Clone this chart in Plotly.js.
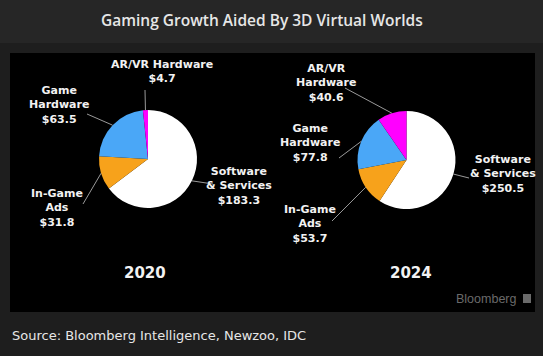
<!DOCTYPE html>
<html>
<head>
<meta charset="utf-8">
<script src="https://cdn.plot.ly/plotly-3.0.1.min.js"></script>
<style>html,body{margin:0;padding:0;background:#1e1e1e;}#chart{width:543px;height:356px;}</style>
</head>
<body>
<div id="chart"></div>
<script>
// ---- data ----
const categories = ['Software & Services', 'In-Game Ads', 'Game Hardware', 'AR/VR Hardware'];
const labelNames2020 = ['Software<br>& Services', 'In-Game<br>Ads', 'Game<br>Hardware', 'AR/VR Hardware'];
const labelNames2024 = ['Software<br>& Services', 'In-Game<br>Ads', 'Game<br>Hardware', 'AR/VR<br>Hardware'];
const values2020 = [183.3, 31.8, 63.5, 4.7];
const values2024 = [250.5, 53.7, 77.8, 40.6];
const years = ['2020', '2024'];
const sliceColors = ['#ffffff', '#f7a21b', '#4aa7f7', '#ff00ff'];

// ---- layout (pixels) ----
const W = 543, H = 356;
const pies = [
  {cx: 148, cy: 159, r: 49},
  {cx: 406.5, cy: 160, r: 49}
];
// label text center (tx,ty) and leader-line end (lx,ly), per slice
const labelPos = [
  [ {tx: 239, ty: 186, lx: 213, ly: 184},
    {tx: 57,  ty: 208, lx: 83,  ly: 204},
    {tx: 59,  ty: 105, lx: 87,  ly: 114},
    {tx: 162, ty: 71,  lx: 145, ly: 90} ],
  [ {tx: 503, ty: 174, lx: 469, ly: 178},
    {tx: 310, ty: 224, lx: 332, ly: 221},
    {tx: 310, ty: 143, lx: 339, ly: 158},
    {tx: 326, ty: 83,  lx: 345, ly: 88} ]
];
const yearPos = [{x: 145, y: 273}, {x: 411, y: 273}];

const px = x => x / W;
const py = y => 1 - y / H;

const allValues = [values2020, values2024];
const allNames = [labelNames2020, labelNames2024];

const traces = [];
const shapes = [
  {type: 'rect', xref: 'paper', yref: 'paper', x0: 0, x1: 1, y0: py(43), y1: 1, fillcolor: '#262626', line: {width: 0}, layer: 'below'},
  {type: 'rect', xref: 'paper', yref: 'paper', x0: px(10), x1: px(535), y0: py(312), y1: py(53), fillcolor: '#000000', line: {width: 0}, layer: 'below'},
  {type: 'rect', xref: 'paper', yref: 'paper', x0: px(523), x1: px(531), y0: py(303), y1: py(294), fillcolor: '#6a6a6a', line: {width: 0}, layer: 'above'}
];
const annotations = [];
const labFont = {family: 'DejaVu Sans', size: 11, color: '#f2f2f2', weight: 'bold'};

allValues.forEach((vals, i) => {
  const p = pies[i];
  traces.push({
    type: 'pie',
    values: vals,
    labels: categories,
    sort: false,
    direction: 'clockwise',
    rotation: 0,
    textinfo: 'none',
    hoverinfo: 'none',
    showlegend: false,
    marker: {colors: sliceColors, line: {width: 0}},
    domain: {x: [px(p.cx - p.r), px(p.cx + p.r)], y: [py(p.cy + p.r), py(p.cy - p.r)]}
  });
  const total = vals.reduce((a, b) => a + b, 0);
  let cum = 0;
  vals.forEach((v, k) => {
    const mid = (cum + v / 2) / total * 2 * Math.PI;
    cum += v;
    const ex = p.cx + p.r * Math.sin(mid);
    const ey = p.cy - p.r * Math.cos(mid);
    const lp = labelPos[i][k];
    shapes.push({type: 'line', xref: 'paper', yref: 'paper', x0: px(ex), y0: py(ey), x1: px(lp.lx), y1: py(lp.ly),
      line: {color: '#9a9a9a', width: 1}, layer: 'above'});
    annotations.push({xref: 'paper', yref: 'paper', x: px(lp.tx), y: py(lp.ty), xanchor: 'center', yanchor: 'middle',
      text: allNames[i][k] + '<br>$' + v.toFixed(1), showarrow: false, font: labFont, align: 'center'});
  });
  annotations.push({xref: 'paper', yref: 'paper', x: px(yearPos[i].x), y: py(yearPos[i].y), xanchor: 'center', yanchor: 'middle',
    text: years[i], showarrow: false, font: {family: 'DejaVu Sans', size: 15, color: '#f2f2f2', weight: 'bold'}});
});

annotations.push({xref: 'paper', yref: 'paper', x: px(262), y: py(20), xanchor: 'center', yanchor: 'middle',
  text: 'Gaming Growth Aided By 3D Virtual Worlds', showarrow: false,
  font: {family: 'Open Sans', size: 15.5, color: '#e6e6e6', weight: 600}});
annotations.push({xref: 'paper', yref: 'paper', x: px(10), y: py(335), xanchor: 'left', yanchor: 'middle',
  text: 'Source: Bloomberg Intelligence, Newzoo, IDC', showarrow: false,
  font: {family: 'DejaVu Sans', size: 13, color: '#e6e6e6'}});
annotations.push({xref: 'paper', yref: 'paper', x: px(518), y: py(299), xanchor: 'right', yanchor: 'middle',
  text: 'Bloomberg', showarrow: false,
  font: {family: 'Liberation Sans', size: 12.5, color: '#6a6a6a'}});

const layout = {
  width: W, height: H,
  margin: {l: 0, r: 0, t: 0, b: 0},
  paper_bgcolor: '#1e1e1e',
  plot_bgcolor: '#1e1e1e',
  showlegend: false,
  shapes: shapes,
  annotations: annotations
};

Plotly.newPlot('chart', traces, layout, {displayModeBar: false, staticPlot: true});
</script>
</body>
</html>
